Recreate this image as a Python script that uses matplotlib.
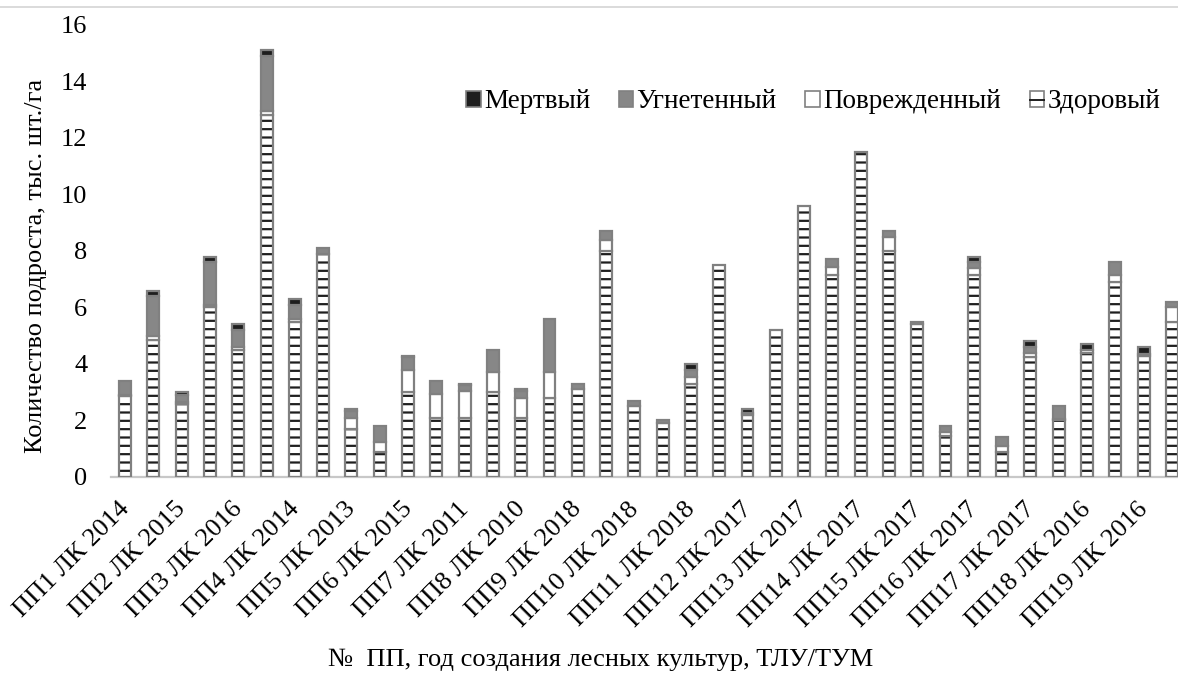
import numpy as np
import matplotlib
matplotlib.use("Agg")
import matplotlib.pyplot as plt
import matplotlib.transforms as mtransforms
from matplotlib.patches import Patch
from matplotlib.lines import Line2D

# Подрост по пробным площадям: две группы (ТЛУ/ТУМ) на каждую ПП
plots = ["ПП1 ЛК 2014", "ПП2 ЛК 2015", "ПП3 ЛК 2016", "ПП4 ЛК 2014", "ПП5 ЛК 2013",
         "ПП6 ЛК 2015", "ПП7 ЛК 2011", "ПП8 ЛК 2010", "ПП9 ЛК 2018", "ПП10 ЛК 2018",
         "ПП11 ЛК 2018", "ПП12 ЛК 2017", "ПП13 ЛК 2017", "ПП14 ЛК 2017", "ПП15 ЛК 2017",
         "ПП16 ЛК 2017", "ПП17 ЛК 2017", "ПП18 ЛК 2016", "ПП19 ЛК 2016"]

healthy = [2.85, 4.85, 2.6, 6.0, 4.5, 12.8, 5.5, 7.9, 1.7, 0.9, 3.0, 2.1, 2.1, 3.0,
           2.1, 2.8, 3.1, 8.0, 2.5, 1.9, 3.3, 7.5, 2.2, 5.2, 9.6, 7.15, 11.5, 8.0,
           5.4, 1.45, 7.15, 0.9, 4.25, 2.0, 4.4, 6.9, 4.3, 5.5]
damaged = [0.05, 0.15, 0.05, 0.1, 0.1, 0.15, 0.1, 0.0, 0.4, 0.35, 0.8, 0.85, 0.95, 0.7,
           0.7, 0.9, 0.0, 0.4, 0.0, 0.0, 0.25, 0.0, 0.05, 0.0, 0.0, 0.3, 0.0, 0.5,
           0.0, 0.15, 0.25, 0.2, 0.15, 0.05, 0.1, 0.25, 0.0, 0.5]
suppressed = [0.5, 1.4, 0.25, 1.5, 0.6, 1.95, 0.5, 0.2, 0.23, 0.55, 0.45, 0.45, 0.2, 0.8,
              0.25, 1.9, 0.2, 0.3, 0.2, 0.1, 0.25, 0.0, 0.0, 0.0, 0.0, 0.25, 0.0, 0.2,
              0.1, 0.2, 0.2, 0.3, 0.2, 0.45, 0.0, 0.45, 0.05, 0.2]
dead = [0.0, 0.2, 0.1, 0.2, 0.2, 0.2, 0.2, 0.0, 0.07, 0.0, 0.05, 0.0, 0.05, 0.0,
        0.05, 0.0, 0.0, 0.0, 0.0, 0.0, 0.2, 0.0, 0.15, 0.0, 0.0, 0.0, 0.0, 0.0,
        0.0, 0.0, 0.2, 0.0, 0.2, 0.0, 0.2, 0.0, 0.25, 0.0]

plt.rcParams["font.family"] = ["Liberation Serif", "DejaVu Serif"]
plt.rcParams["hatch.linewidth"] = 1.6

EDGE = "#808080"
GRAY = "#878787"
BLACK = "#1e1e1e"
W = 0.42
FS = 19

fig = plt.figure(figsize=(11.78, 6.79), dpi=100)
ax = fig.add_axes([0.0942, 0.2975, 0.9126, 0.6657])

x = np.arange(len(healthy))
h = np.array(healthy)
d = np.array(damaged)
s = np.array(suppressed)
m = np.array(dead)


def draw_segment(vals, bottom, face, hatch=None):
    keep = vals > 0
    if hatch:
        # hatch lines in dark, outline drawn separately in gray
        ax.bar(x[keep], vals[keep], W, bottom=bottom[keep], color="white",
               edgecolor=BLACK, linewidth=0, hatch=hatch, zorder=2)
        ax.bar(x[keep], vals[keep], W, bottom=bottom[keep], fill=False,
               edgecolor=EDGE, linewidth=1.6, zorder=3)
    else:
        ax.bar(x[keep], vals[keep], W, bottom=bottom[keep], color=face,
               edgecolor=EDGE, linewidth=1.6, zorder=3)


draw_segment(h, np.zeros_like(h), "white", hatch="--")
draw_segment(d, h, "white")
draw_segment(s, h + d, GRAY)
draw_segment(m, h + d + s, BLACK)

ax.set_xlim(-0.5, len(x) - 0.5)
ax.set_ylim(0, 16)
ax.set_yticks(range(0, 17, 2))
ax.set_xticks([])

# подписи категорий под первой колонкой каждой ПП, повернуты на 45°
lbl_tr = ax.get_xaxis_transform() + mtransforms.ScaledTranslation(
    -0.07, -0.21, fig.dpi_scale_trans)
for pos, name in zip(x[::2], plots):
    ax.text(pos, 0, name, transform=lbl_tr, rotation=45, rotation_mode="anchor",
            ha="right", va="top", fontsize=FS)

for side in ["top", "right", "left"]:
    ax.spines[side].set_visible(False)
ax.spines["bottom"].set_color("#c8c8c8")
ax.spines["bottom"].set_linewidth(1.6)
ax.tick_params(axis="y", length=0, pad=17, labelsize=FS)

fig.text(36 / 1178, 1 - 266 / 679, "Количество подроста, тыс. шт./га",
         rotation=90, ha="center", va="center", fontsize=FS)
fig.text(0.5 + 12 / 1178, 0.028, "№  ПП, год создания лесных культур, ТЛУ/ТУМ",
         ha="center", va="center", fontsize=FS)

box = dict(edgecolor=EDGE, linewidth=1.2)
handles = [
    Patch(facecolor=BLACK, **box),
    Patch(facecolor=GRAY, **box),
    Patch(facecolor="white", **box),
    (Patch(facecolor="white", **box), Line2D([], [], color=BLACK, linewidth=1.4)),
]
labels = ["Мертвый", "Угнетенный", "Поврежденный", "Здоровый"]
fig.legend(handles, labels, loc="center right",
           bbox_to_anchor=(0.9967, 1 - 102 / 679),
           ncol=4, frameon=False, fontsize=19.5, handlelength=0.55, handleheight=0.55,
           handletextpad=0.12, columnspacing=1.05, borderpad=0)

# тонкая линия по верхнему краю
fig.add_artist(Line2D([0, 1], [1 - 7 / 679] * 2, color="#d4d4d4", linewidth=1.2))

fig.savefig("out.png", dpi=100)
